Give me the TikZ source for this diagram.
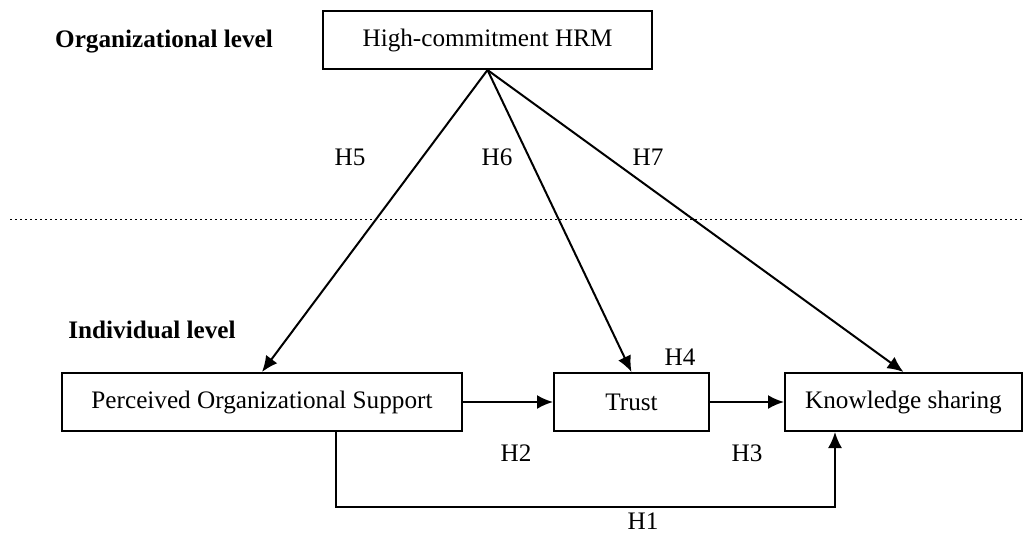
\documentclass[tikz,border=0pt]{standalone}
\usepackage{fontspec}
\setmainfont{Liberation Serif}
\usepackage{tikz}
\usetikzlibrary{arrows.meta}
\usetikzlibrary{positioning}

\tikzset{
	box/.style={draw, line width=1pt, inner sep=0pt, minimum height=29pt},
	arr/.style={line width=1pt, -{Latex[length=8pt,width=7pt]}},
	hyp/.style={inner sep=0pt}
}

\begin{document}
\begin{tikzpicture}[x=0.5pt, y=-0.5pt, font=\fontsize{12.6}{15}\selectfont]
	
	\useasboundingbox (0,0) rectangle (1023,532);
	
	% organizational level
	\node[box, minimum width=164.5pt] (hrm) at (487.5,40) {High-commitment HRM};
	\node[font=\fontsize{12.6}{15}\selectfont\bfseries] (orglvl) at (164,42) {Organizational level};
	
	\draw[line width=0.5pt, dash pattern=on 1pt off 1.5pt] (10,219) -- (1023,219);
	
	% individual level
	\node[font=\fontsize{12.6}{15}\selectfont\bfseries] (indlvl) at (152,330) {Individual level};
	\node[box, minimum width=200pt] (pos) at (262,402) {Perceived Organizational Support};
	\node[box, minimum width=77.5pt] (trust) at (631.5,402) {Trust};
	\node[box, minimum width=118.5pt] (ks) at (903.5,402) {Knowledge sharing};
	
	\draw[arr] (hrm.south) -- (pos.north);
	\draw[arr] (hrm.south) -- (trust.north);
	\draw[arr] (hrm.south) -- (ks.north);
	
	\draw[arr] (pos.east) -- (trust.west);
	\draw[arr] (trust.east) -- (ks.west);
	
	\coordinate (h1a) at (336,507);
	\coordinate (h1b) at (835,507);
	\draw[arr] (pos.south -| h1a) -- (h1a) -- (h1b) -- (ks.south -| h1b);
	
	% hypotheses
	\node[hyp] (h5) at (350,157) {H5};
	\node[hyp] (h6) at (497,157) {H6};
	\node[hyp] (h7) at (648,157) {H7};
	\node[hyp] (h4) at (680,357) {H4};
	\node[hyp] (h2) at (516,453) {H2};
	\node[hyp] (h3) at (747,453) {H3};
	\node[hyp] (h1) at (643,521) {H1};
	
\end{tikzpicture}
\end{document}
